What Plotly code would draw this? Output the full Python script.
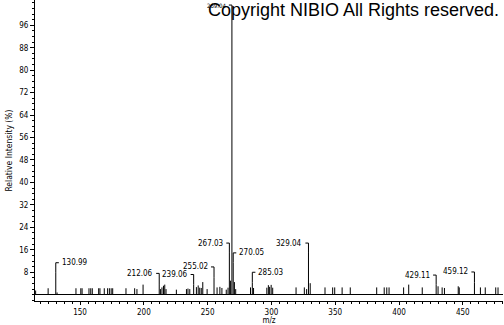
import plotly.graph_objects as go

# ---- data ----
peak_mz = [115.2, 125.0, 130.99, 132.0, 146.8, 150.6, 151.6, 157.0, 158.4, 159.6,
           164.6, 165.6, 169.0, 171.6, 173.0, 174.4, 175.6, 186.0, 192.8, 194.6,
           199.4, 212.06, 213.0, 214.2, 215.4, 216.4, 217.4, 225.5, 233.4, 234.6,
           236.0, 239.06, 241.2, 242.6, 243.8, 245.0, 246.2, 249.6, 255.02, 257.4,
           259.6, 261.2, 264.6, 266.0, 267.03, 268.0, 269.04, 270.05, 271.0, 272.0,
           283.6, 285.03, 286.0, 296.4, 297.6, 298.6, 299.8, 301.0, 319.3, 325.8,
           327.6, 329.04, 330.4, 342.0, 348.0, 349.6, 355.4, 361.8, 382.5, 388.4,
           390.4, 392.2, 403.6, 407.6, 418.2, 429.11, 430.6, 433.8, 435.6, 446.4,
           447.2, 459.12, 463.8, 467.6, 475.8, 477.6]
peak_int = [1.5, 2.3, 7.8, 0.8, 2.3, 2.3, 2.3, 2.3, 2.3, 2.3,
            2.3, 2.3, 2.3, 2.3, 2.3, 2.3, 2.3, 2.3, 2.3, 2.0,
            3.6, 3.8, 2.0, 2.6, 3.2, 3.6, 2.0, 1.8, 2.0, 2.2,
            2.0, 3.6, 2.7, 3.3, 2.5, 2.4, 4.5, 2.0, 6.2, 2.6,
            2.8, 2.4, 1.8, 2.5, 15.2, 5.0, 100.0, 11.5, 4.5, 2.0,
            2.6, 4.4, 2.4, 2.5, 3.4, 2.8, 3.5, 2.5, 2.6, 2.6,
            2.0, 15.2, 4.1, 2.6, 2.6, 2.6, 2.6, 2.6, 2.6, 2.6,
            2.6, 2.6, 2.6, 3.6, 2.6, 3.6, 3.0, 2.6, 2.4, 3.0,
            2.6, 4.4, 2.6, 2.6, 2.6, 2.6]

label_mz = [130.99, 212.06, 239.06, 255.02, 267.03, 269.04, 270.05, 285.03, 329.04, 429.11, 459.12]
label_text = ["130.99", "212.06", "239.06", "255.02", "267.03", "269.04", "270.05", "285.03", "329.04", "429.11", "459.12"]
label_y = [11.4, 7.6, 7.2, 9.9, 18.4, 103.2, 14.9, 8.0, 18.4, 7.0, 8.1]
label_side = ["right", "left", "left", "left", "left", "left", "right", "right", "left", "left", "left"]
label_size = [8, 8, 8, 8, 8, 6, 8, 8, 8, 8, 8]

y_tickvals = [8, 16, 24, 32, 40, 48, 56, 64, 72, 80, 88, 96]
x_tickvals = [150, 200, 250, 300, 350, 400, 450]

narrow = "Liberation Sans Narrow, Arial Narrow, DejaVu Sans Condensed, Arial, sans-serif"

# ---- sticks ----
sx, sy = [], []
for m, h in zip(peak_mz, peak_int):
    sx += [m, m, None]
    sy += [0, h, None]

height_of = dict(zip(peak_mz, peak_int))
HL = 2.4  # bracket arm length in m/z units
bx, by = [], []
annotations = []
for m, t, ly, side, fs in zip(label_mz, label_text, label_y, label_side, label_size):
    h = height_of.get(m, 0)
    arm = m - HL if side == "left" else m + HL
    bx += [arm, m, m, None]
    by += [ly, ly, h, None]
    annotations.append(dict(
        x=arm, y=ly, xref="x", yref="y", text=t, showarrow=False,
        xanchor="right" if side == "left" else "left", yanchor="middle",
        xshift=-1 if side == "left" else 1,
        font=dict(family=narrow, size=fs, color="black"),
    ))

annotations.append(dict(
    x=0.366, y=1, xref="paper", yref="paper", xanchor="left", yanchor="top",
    yshift=2, text="Copyright NIBIO All Rights reserved.", showarrow=False,
    font=dict(family="Liberation Sans, Arial, sans-serif", size=18, color="black"),
))

fig = go.Figure()
fig.add_trace(go.Scatter(x=sx, y=sy, mode="lines", line=dict(color="black", width=1),
                         hoverinfo="skip", showlegend=False))
fig.add_trace(go.Scatter(x=bx, y=by, mode="lines", line=dict(color="black", width=1),
                         hoverinfo="skip", showlegend=False))

fig.update_layout(
    width=504, height=325,
    margin=dict(l=35, r=1, t=0, b=24),
    paper_bgcolor="white", plot_bgcolor="white",
    annotations=annotations,
    showlegend=False,
    xaxis=dict(
        range=[114.7, 481.5], showgrid=False, zeroline=False,
        showline=True, linecolor="black", linewidth=1,
        tickvals=x_tickvals, ticks="outside", ticklen=3, tickcolor="black",
        tickfont=dict(family=narrow, size=8, color="black"),
        minor=dict(dtick=6.25, tick0=0, ticks="outside", ticklen=2, tickcolor="black", showgrid=False),
        title=dict(text="m/z", font=dict(family=narrow, size=8, color="black"), standoff=2),
    ),
    yaxis=dict(
        range=[-2.24, 105.0], showgrid=False,
        zeroline=True, zerolinecolor="black", zerolinewidth=1,
        showline=True, linecolor="black", linewidth=1,
        tickvals=y_tickvals, ticks="outside", ticklen=4, tickcolor="black",
        tickfont=dict(family=narrow, size=8, color="black"),
        minor=dict(dtick=2, tick0=0, ticks="outside", ticklen=2, tickcolor="black", showgrid=False),
        title=dict(text="Relative Intensity (%)", font=dict(family=narrow, size=8.5, color="black"), standoff=5),
    ),
)

fig.write_html("out.html")
